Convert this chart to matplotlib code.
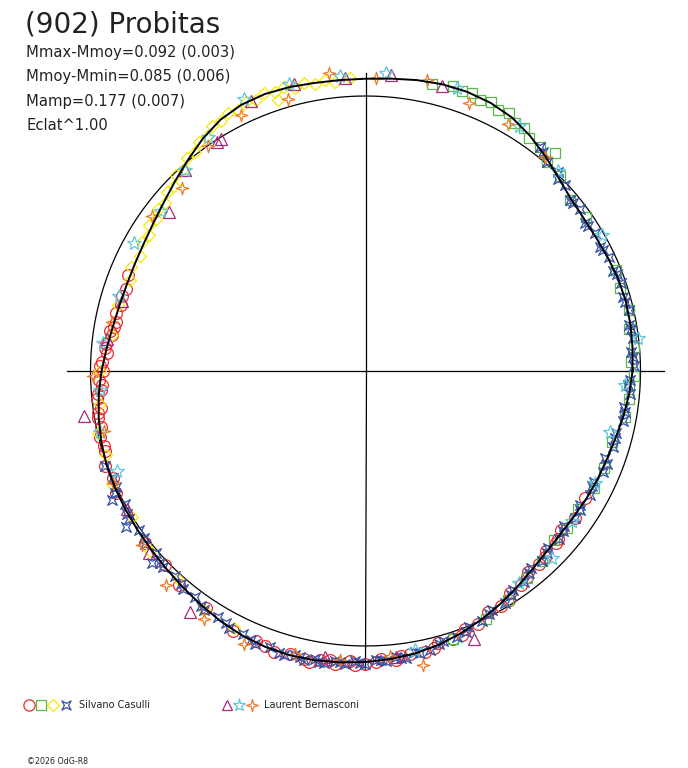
import numpy as np
import matplotlib
matplotlib.use("Agg")
import matplotlib.pyplot as plt
from matplotlib.path import Path

# ---- data (phase in degrees, delta-mag, outward = positive) ----
title = "(902) Probitas"
info_lines = ["Mmax-Mmoy=0.092 (0.003)", "Mmoy-Mmin=0.085 (0.006)",
              "Mamp=0.177 (0.007)", "Eclat^1.00"]
observers = ["Silvano Casulli", "Laurent Bernasconi"]

curve_phase = list(range(0, 365, 5))
curve_dm = [-0.033, -0.029, -0.025, -0.023, -0.025, -0.031, -0.036, -0.036, -0.029, -0.008,
            0.021, 0.050, 0.074, 0.087, 0.092, 0.091, 0.085, 0.077, 0.072, 0.071,
            0.073, 0.079, 0.082, 0.078, 0.063, 0.036, 0.004, -0.025, -0.050, -0.068,
            -0.080, -0.086, -0.088, -0.085, -0.077, -0.063, -0.046, -0.030, -0.017, -0.006,
            0.002, 0.006, 0.009, 0.012, 0.017, 0.024, 0.034, 0.046, 0.059, 0.070,
            0.077, 0.080, 0.078, 0.073, 0.067, 0.059, 0.049, 0.035, 0.017, -0.003,
            -0.024, -0.046, -0.066, -0.080, -0.087, -0.087, -0.083, -0.079, -0.075, -0.067,
            -0.055, -0.043, -0.033]

# Silvano Casulli
red_phase = [158, 161, 163, 165, 167, 169, 170, 171, 172, 174, 175, 176, 178, 179, 180, 182, 183,
             184, 185, 186, 188, 189, 190, 192, 194, 196, 197, 200, 203, 206, 218, 224, 229, 236,
             243, 248, 250, 252, 255, 258, 259, 261, 263, 264, 267, 268, 270, 272, 273, 276, 277,
             279, 282, 284, 285, 288, 290, 291, 294, 297, 300, 302, 303, 306, 308, 309, 312, 314,
             315, 318, 319, 321, 325, 330]
red_dm = [-0.080, -0.092, -0.083, -0.090, -0.078, -0.086, -0.083, -0.070, -0.080, -0.060, -0.055,
          -0.066, -0.047, -0.041, -0.053, -0.034, -0.045, -0.040, -0.028, -0.022, -0.031, -0.018,
          -0.012, -0.020, -0.004, -0.012, -0.009, 0.010, -0.002, 0.012, 0.020, 0.016, 0.037,
          0.043, 0.071, 0.068, 0.075, 0.086, 0.074, 0.083, 0.090, 0.072, 0.066, 0.081, 0.066,
          0.078, 0.073, 0.068, 0.056, 0.063, 0.052, 0.047, 0.050, 0.042, 0.027, 0.030, 0.024,
          0.006, 0.009, -0.017, -0.014, -0.020, -0.043, -0.042, -0.055, -0.070, -0.064, -0.070,
          -0.085, -0.076, -0.082, -0.095, -0.080, -0.089]

green_phase = [288, 296, 302, 308, 313, 318, 322, 327, 333, 338, 344, 350, 354, 357, 359, 2, 5, 9,
               13, 18, 22, 35, 40, 45, 49, 49, 52, 55, 57, 59, 61, 63, 65, 67, 69, 71, 73, 77]
green_dm = [0.030, 0.002, -0.022, -0.050, -0.066, -0.091, -0.080, -0.090, -0.076, -0.072, -0.076,
            -0.048, -0.040, -0.047, -0.028, -0.037, -0.022, -0.033, -0.018, -0.031, -0.020, -0.026,
            -0.036, 0.003, 0.010, 0.055, 0.038, 0.040, 0.063, 0.060, 0.085, 0.073, 0.090, 0.080,
            0.097, 0.086, 0.094, 0.080]

yellow_phase = [93, 96, 98, 100, 102, 104, 106, 108, 108, 110, 112, 114, 116, 118, 120, 122, 124,
                126, 128, 130, 132, 134, 136, 138, 140, 142, 144, 146, 148, 150, 153, 156, 159,
                165, 172, 180, 187, 193, 198, 204, 212, 220, 228, 236, 243]
yellow_dm = [0.076, 0.066, 0.078, 0.067, 0.080, 0.070, 0.085, 0.075, 0.040, 0.088, 0.072, 0.082,
             0.064, 0.072, 0.055, 0.058, 0.033, 0.035, 0.010, 0.011, -0.013, -0.010, -0.035,
             -0.032, -0.056, -0.049, -0.068, -0.060, -0.080, -0.072, -0.089, -0.078, -0.093,
             -0.078, -0.080, -0.040, -0.033, -0.004, -0.007, 0.012, 0.003, 0.024, 0.022, 0.056,
             0.057]

blue_phase = [200, 203, 205, 206, 207, 209, 211, 212, 213, 215, 217, 218, 221, 222, 223, 224, 227,
              229, 230, 233, 235, 236, 239, 241, 242, 245, 247, 248, 251, 253, 254, 256, 257, 258,
              260, 261, 262, 264, 265, 266, 268, 269, 270, 272, 273, 274, 276, 277, 278, 280, 281,
              283, 285, 286, 289, 291, 292, 295, 297, 298, 301, 303, 304, 307, 309, 310, 313, 315,
              316, 319, 321, 322, 325, 327, 328, 331, 333, 334, 337, 339, 340, 343, 345, 346, 349,
              351, 352, 355, 357, 358, 1, 3, 4, 7, 9, 10, 13, 15, 16, 19, 21, 22, 25, 27, 28, 31,
              33, 34, 37, 39, 40, 43, 45, 46, 49, 51, 52]
blue_dm = [0.010, -0.003, 0.000, 0.014, 0.040, 0.001, 0.015, 0.018, 0.044, 0.006, 0.008, 0.022,
           0.012, 0.050, 0.026, 0.030, 0.021, 0.028, 0.040, 0.034, 0.052, 0.055, 0.049, 0.055,
           0.069, 0.062, 0.070, 0.082, 0.072, 0.083, 0.086, 0.073, 0.076, 0.085, 0.072, 0.083,
           0.084, 0.068, 0.070, 0.079, 0.063, 0.072, 0.074, 0.058, 0.060, 0.067, 0.051, 0.059,
           0.060, 0.044, 0.050, 0.047, 0.030, 0.024, 0.027, 0.019, 0.003, 0.005, -0.008, -0.020,
           -0.019, -0.033, -0.047, -0.046, -0.063, -0.074, -0.066, -0.074, -0.087, -0.079, -0.085,
           -0.094, -0.079, -0.082, -0.090, -0.076, -0.087, -0.088, -0.073, -0.070, -0.085, -0.066,
           -0.070, -0.071, -0.051, -0.052, -0.057, -0.038, -0.050, -0.042, -0.026, -0.029, -0.036,
           -0.021, -0.027, -0.031, -0.019, -0.028, -0.031, -0.019, -0.022, -0.032, -0.025, -0.036,
           -0.041, -0.031, -0.038, -0.041, -0.026, -0.032, -0.035, -0.008, -0.012, 0.007, 0.010,
           0.028, 0.037]

# Laurent Bernasconi
purple_phase = [75, 85, 94, 104, 113, 122, 123, 132, 141, 164, 173, 189, 210, 220, 234, 262, 276, 292]
purple_dm = [0.085, 0.092, 0.077, 0.088, 0.075, -0.008, -0.010, -0.021, -0.090, -0.092, -0.060,
             0.041, 0.003, 0.033, 0.095, 0.058, 0.054, 0.058]

cyan_phase = [72, 58, 46, 30, 7, 357, 346, 334, 324, 315, 306, 280, 202, 193, 184, 174, 163, 151,
              142, 132, 124, 114, 105, 95, 86]
cyan_dm = [0.093, 0.058, 0.010, -0.010, -0.001, -0.063, -0.095, -0.081, -0.080, -0.046, -0.056,
           0.036, -0.028, -0.010, -0.037, -0.046, -0.072, -0.044, -0.062, -0.021, 0.030, 0.096,
           0.093, 0.086, 0.098]

orange_phase = [50, 60, 69, 78, 88, 97, 106, 116, 125, 135, 144, 169, 181, 193, 204, 218, 227,
                237, 246, 256, 265, 275, 281]
orange_dm = [0.020, 0.043, 0.052, 0.093, 0.075, 0.104, 0.032, 0.039, -0.001, -0.066, -0.048,
             -0.070, -0.011, -0.026, 0.004, 0.035, 0.076, 0.088, 0.101, 0.068, 0.064, 0.048, 0.104]

MAG_SCALE = 0.873   # radius units per magnitude (reference circle = 1)
AXIS_LEN = 1.085
RMAX = 1.15

# custom marker shapes
star4_diag = Path([(1, 1), (0, 0.45), (-1, 1), (-0.45, 0), (-1, -1), (0, -0.45), (1, -1),
                   (0.45, 0), (1, 1)], closed=True)
star4 = Path([(0, 1), (0.22, 0.22), (1, 0), (0.22, -0.22), (0, -1), (-0.22, -0.22), (-1, 0),
              (-0.22, 0.22), (0, 1)], closed=True)

series = [
    (red_phase, red_dm, "o", "#ee2b2b", 8.5),
    (green_phase, green_dm, "s", "#5cb848", 7.0),
    (yellow_phase, yellow_dm, "D", "#f7e800", 6.5),
    (blue_phase, blue_dm, star4_diag, "#3651a8", 7.0),
    (purple_phase, purple_dm, "^", "#a82a7c", 8.0),
    (cyan_phase, cyan_dm, "*", "#5ec8dc", 10.0),
    (orange_phase, orange_dm, star4, "#f07a28", 9.0),
]

W, H = 688, 768
cx, cy = 365.5, 371.0
rpx = 275 * RMAX

fig = plt.figure(figsize=(W / 100, H / 100), dpi=100)
fig.patch.set_facecolor("white")
ax = fig.add_axes([(cx - rpx) / W, (H - cy - rpx) / H, 2 * rpx / W, 2 * rpx / H],
                  projection="polar")
ax.set_facecolor("none")
ax.set_rlim(0, RMAX)
ax.set_xticks([])
ax.set_yticks([])
ax.grid(False)
ax.spines["polar"].set_visible(False)

# cross through the centre
for a in [0, 90, 180, 270]:
    ax.plot([np.radians(a)] * 2, [0, AXIS_LEN], color="black", lw=0.9)

# mean-magnitude circle
tt = np.linspace(0, 2 * np.pi, 361)
ax.plot(tt, np.ones_like(tt), color="black", lw=0.9)

for ph, dm, mk, col, ms in series:
    ax.plot(np.radians(ph), 1 + MAG_SCALE * np.array(dm), ls="none", marker=mk, ms=ms,
            mfc="none", mec=col, mew=0.9, clip_on=False)

ax.plot(np.radians(curve_phase), 1 + MAG_SCALE * np.array(curve_dm), color="black", lw=1.4,
        zorder=5)

# overlay in pixel coordinates for texts and legend
ov = fig.add_axes([0, 0, 1, 1])
ov.set_xlim(0, W)
ov.set_ylim(H, 0)
ov.axis("off")
ov.patch.set_alpha(0)

ov.text(25, 33, title, fontsize=20, color="#222222", va="baseline", ha="left")
for i, line in enumerate(info_lines):
    ov.text(26, 57 + i * 24.5, line, fontsize=10.6, color="#222222", va="baseline", ha="left")

leg_y = 705
for x, (ph, dm, mk, col, ms) in zip([29, 41, 53, 66, 227, 239, 252], series):
    ov.plot([x], [leg_y], ls="none", marker=mk, ms=ms * 0.95, mfc="none", mec=col, mew=0.9)
ov.text(79, leg_y, observers[0], fontsize=7, color="#222222", va="center", ha="left")
ov.text(264, leg_y, observers[1], fontsize=7, color="#222222", va="center", ha="left")
ov.text(27, 762, "\u00a92026 OdG-R8", fontsize=5.7, color="#222222", va="center", ha="left")

fig.savefig("out.png", dpi=100, facecolor="white")
